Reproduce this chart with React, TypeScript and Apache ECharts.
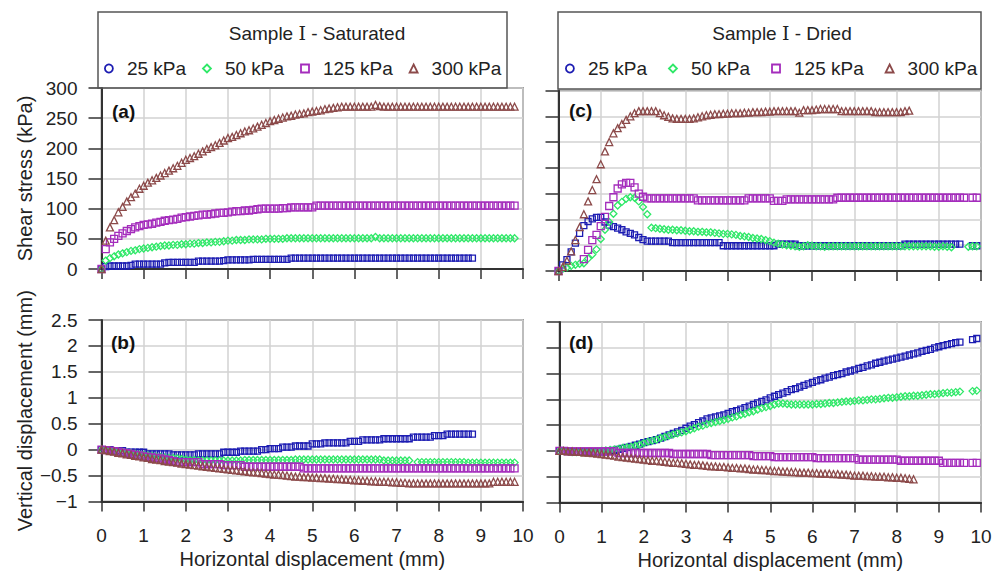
import React, { useEffect, useRef } from "react";
import * as echarts from "echarts";

// Horizontal displacement step between readings (mm)
const X_STEP = 0.1;
const SERIES_NAMES = ["25 kPa", "50 kPa", "125 kPa", "300 kPa"];
const PANEL_TITLES = ["Sample {r|\u2160} - Saturated", "Sample {r|\u2160} - Dried"];
const PANEL_LABELS = ["(a)", "(b)", "(c)", "(d)"];

// (a) Saturated shear stress (kPa)
const A25 = [0,4,5,5,5,5,5,6,8,8,8, 8,8,8,8,10,11,11,11,11,11, 11,11,13,13,13,13,13,13,14,15, 15,15,15,15,15,16,16,16,16,16, 16,16,16,16,18,18,18,18,18,18,
  18,18,18,18,18,18,18,18,18,18, 18,18,18,18,18,18,18,18,18,18, 18,18,18,18,18,18,18,18,18,18, 18,18,18,18,18,18,18,18];
const A50 = [0,14,18,21,24,26,28,30,31,33,34, 35,36,37,38,39,39,40,40,41,41, 42,42,43,43,44,44,45,45,46,47, 47,48,48,48,49,49,49,49,50,50, 50,50,50,51,51,51,51,51,51,51,
  51,51,51,51,51,51,51,51,51,51, 51,51,51,51,53,51,51,51,51,51, 51,51,51,51,51,51,51,51,51,51, 51,51,51,51,51,51,51,51,51,51, 51,51,51,51,51,51,51,51];
const A125 = [0,33,44,50,55,59,63,66,69,71,73, 74,75,77,78,80,81,82,83,85,86, 87,88,89,90,90,91,92,93,93,94, 95,96,96,97,97,98,99,100,100,100, 100,100,101,101,102,102,102,102,102,102,
  105,105,105,105,105,105,105,105,105,105, 105,105,105,105,105,105,105,105,105,105, 105,105,105,105,105,105,105,105,105,105, 105,105,105,105,105,105,105,105,105,105, 105,105,105,105,105,105,105,105];
const A300 = [0,47,69,81,94,103,112,119,125,133,138, 143,147,151,155,159,163,167,171,176,181, 184,187,191,195,199,202,205,209,213,217, 219,222,225,228,230,233,236,239,242,245, 247,249,251,253,254,256,257,258,260,261,
  262,263,265,266,267,268,269,269,269,269, 269,269,269,269,272,270,269,269,269,269, 269,269,269,269,269,269,269,269,269,269, 269,269,269,269,269,269,269,269,269,269, 269,269,269,269,269,269,269,269];

// (b) Saturated vertical displacement (mm)
const B25 = [0,0,0, -0.02,-0.02,-0.02, -0.05,-0.05,-0.05,-0.05,-0.05, -0.08,-0.08,-0.08,-0.08,-0.08,-0.08, -0.1,-0.1,-0.1,-0.1,-0.1,-0.1,
  -0.08,-0.08,-0.08,-0.08,-0.08,-0.08, -0.05,-0.05,-0.05,-0.05, -0.03,-0.03,-0.03,-0.03,-0.03, 0,0, 0.02,0.02,0.02, 0.05,0.05,0.05,
  0.07,0.07,0.07,0.07, 0.11,0.11,0.11, 0.13,0.13,0.13,0.13,0.13,0.13, 0.16,0.16,0.16, 0.19,0.19,0.19,0.19,0.19,
  0.21,0.21,0.21,0.21,0.21,0.21,0.21, 0.24,0.24,0.24,0.24,0.24, 0.27,0.27,0.27, 0.3,0.3,0.3,0.3,0.3,0.3,0.3];
const B50 = [0,-0.01,-0.02,-0.03,-0.04,-0.05,-0.06,-0.07,-0.08,-0.09,-0.1, -0.11,-0.12,-0.13,-0.14,-0.15,-0.16,-0.16,-0.17,-0.18,-0.19,
  -0.2,-0.2, -0.21,-0.21,-0.21,-0.21,-0.21,-0.21,-0.21,-0.21,-0.21,-0.21,-0.21,
  -0.2,-0.2,-0.2,-0.2,-0.2,-0.2,-0.2,-0.2,-0.2,-0.2,-0.2,-0.2,
  -0.19,-0.19,-0.19,-0.19,-0.19,-0.19,-0.19,-0.19,-0.19,-0.19, -0.19,-0.19,-0.19,-0.19,-0.19,-0.19,-0.19,-0.19,-0.19,-0.19,-0.19,
  -0.21,-0.21,-0.21,-0.21,-0.21,-0.21,-0.21, null,
  -0.24,-0.24,-0.24,-0.24,-0.24,-0.24,-0.24,-0.24,-0.24,-0.24,-0.24,-0.24, -0.25,-0.25,-0.25,-0.25,-0.25,-0.25,-0.25,-0.25,-0.25,-0.25,-0.25,-0.25];
const B125 = [0,-0.01,-0.02,-0.03,-0.04,-0.06,-0.07,-0.08,-0.1,-0.11,-0.13, -0.14,-0.15,-0.16,-0.17,-0.19,-0.2,-0.22,
  -0.24,-0.24,-0.24,-0.24,-0.24,-0.24, -0.28,-0.28,-0.28,-0.28,-0.28, -0.3,-0.3,-0.3,-0.3,-0.3,
  -0.33,-0.33,-0.33,-0.33,-0.33,-0.33,-0.33,-0.33,-0.33,-0.33,-0.33,-0.33,-0.33,-0.33,
  -0.36,-0.36,-0.36,-0.36,-0.36,-0.36,-0.36,-0.36,-0.36,-0.36, -0.36,-0.36,-0.36,-0.36,-0.36,-0.36,-0.36,-0.36,-0.36,-0.36,
  -0.36,-0.36,-0.36,-0.36,-0.36,-0.36,-0.36,-0.36,-0.36,-0.36, -0.36,-0.36,-0.36,-0.36,-0.36,-0.36,-0.36,-0.36,-0.36,-0.36,
  -0.36,-0.36,-0.36,-0.36,-0.36,-0.36,-0.36,-0.36,-0.36,-0.36, -0.36];
const B300 = [0,-0.01,-0.03,-0.04,-0.06,-0.07,-0.09,-0.1,-0.12,-0.13,-0.15,
  -0.16,-0.18,-0.19,-0.2,-0.22,-0.23,-0.24,-0.25,-0.27,-0.28, -0.29,-0.3,-0.31,-0.32,-0.33,-0.34,-0.35,-0.36,-0.37,-0.38,
  -0.39,-0.4,-0.41,-0.42,-0.43,-0.44,-0.44,-0.45,-0.46,-0.47, -0.48,-0.48,-0.49,-0.5,-0.51,-0.52,-0.52,-0.53,-0.53,-0.54,
  -0.54,-0.55,-0.55,-0.56,-0.56,-0.57,-0.57,-0.58,-0.58,-0.59, -0.59,-0.6,-0.6,-0.61,-0.61,-0.62,-0.62,-0.62,-0.63,-0.63,
  -0.64,-0.64,-0.65,-0.65,-0.65,-0.65,-0.65,-0.65,-0.65,-0.65, -0.65,-0.65,-0.65,-0.65,-0.65,-0.65,-0.65,-0.65,-0.65,-0.65,-0.65,-0.65,
  -0.62,-0.62,-0.62,-0.62,-0.62,-0.62];

// (c) Dried shear stress (kPa)
const C25 = [0,12,22,37,54,73,88,96,101,104,104,95,89,86,83,80,76,73,70,65,61,
  58,58,58,58,58,58, 55,55,55,55,55,55,55,55,55,55,55,55,
  49,49,49,49,49,49,49,49,49,49,49,49,49, 52,52,52,52,52,
  49,49,49,49,49,49,49,49,49,49, 49,49,49,49,49,49,49,49,49,49, 49,49,49,49,49,
  52,52,52,52,52,52,52,52,52,52,52,52,52,52, null,null, 49,49];
const C50 = [0,4,7,10,12,14,15,24,32,42,62,80,95,111,127,134,140,143,142,135,124,110,84,83,
  82,81,80,80,79,79,78, 77,77,76,76,75,75,74,73,72,72, 71,70,68,67,66,64,63,62,60,58, 55,53,51,50,49,
  48,47,48,50,49,48,48,47,48,48, 48,48,48,48,48,48,48,48,48,48, 48,48,48,48,48,48,48,48,48,48, 48,48,48,47,47,48,47,46,
  null,null,null, 47,48,48];
const C125 = [0, null,null,null,null,null, 23,41,60,70,87,105,126,143,160,168,171,171,162,150,144,
  141,141,141,141,141,141,141,141,141,141,141,141, 137,137,137,137,137,137,137,137,137,137,137,137,
  141,141,141,141,141,141, 136,136,136, 139,139,139,139,139,139,139,139,139,139,139,139,
  142,142,142,142,142,142,142,142,142,142, 142,142,142,142,142,142,142,142,142,142, 142,142,142,142,142,142,142,142,142,142, 142,
  null, 142,142];
const C300 = [0,8,20,38,60,85,110,135,157,178,207, 232,250,267,277,285,293,300,306,310,310, 310,310,310,306,302,299,296,295,295,295,
  295,296,298,300,302,303,304,304,305,305, 306,306,306,307,307,308,308,308,309,309, 310,310,310,310,310,310,307,312,312,312,
  313,314,314,314,314,314,310,310,310,310, 310,310,310,310,308,308,308,308,308,308, 308,310,311];

// (d) Dried vertical displacement (mm)
const D25 = [0,0,-0.01,-0.02,-0.02,-0.02,-0.02,-0.02,-0.02,-0.02,-0.02,-0.02,-0.01,
  0.01,0.03,0.05,0.07,0.09,0.11,0.13,0.16, 0.18,0.2,0.22,0.25,0.28,0.31,0.34,0.37,0.4,0.44,
  0.48,0.51,0.55,0.58,0.62,0.64,0.66,0.68,0.7,0.73, 0.76,0.78,0.81,0.84,0.87,0.9,0.93,0.96,0.99,1.03,
  1.06,1.09,1.12,1.15,1.19,1.21,1.24,1.27,1.3,1.33, 1.36,1.38,1.41,1.43,1.46,1.48,1.5,1.53,1.55,1.57,
  1.6,1.62,1.65,1.67,1.7,1.72,1.74,1.76,1.78,1.8, 1.82,1.84,1.86,1.88,1.9,1.93,1.95,1.97,2.0,2.02,
  2.04,2.06,2.08,2.1,2.11, null,null, 2.16,2.18];
const D50 = [0,0,-0.01,-0.02,-0.02,-0.02,-0.02,-0.02,-0.02,-0.01,0,0.01,0.02,
  0.03,0.04,0.06,0.07,0.08,0.1,0.12,0.15, 0.18,0.2,0.22,0.25,0.27,0.3,0.32,0.34,0.36,0.38,
  0.41,0.44,0.47,0.49,0.52,0.54,0.56,0.58,0.6,0.62, 0.65,0.67,0.7,0.72,0.75,0.77,0.8,0.83,0.85,0.87,
  0.9,0.92,0.92,0.91,0.9,0.9,0.9,0.9,0.9,0.9, 0.91,0.91,0.92,0.93,0.93,0.94,0.95,0.96,0.96,0.97,
  0.98,0.98,0.99,1.0,1.0,1.01,1.02,1.03,1.03,1.04, 1.05,1.06,1.06,1.07,1.07,1.08,1.09,1.1,1.1,1.11,
  1.12,1.13,1.13,1.14,1.15, null,null, 1.16,1.17];
const D125 = [0,0,-0.01,-0.01,-0.01,-0.01,-0.01,-0.01,-0.01,-0.01,-0.01,-0.01,-0.01,-0.01,
  -0.04,-0.04,-0.04,-0.04,-0.04,-0.04,-0.04,-0.04,-0.04,-0.04,-0.04,-0.04,-0.04,
  -0.06,-0.06,-0.06,-0.06,-0.06,-0.06,-0.06,-0.06,-0.06,
  -0.08,-0.08,-0.08,-0.08,-0.08,-0.08,-0.08,-0.08,-0.08,-0.08, -0.1,-0.1,-0.1,-0.1,-0.1,
  -0.12,-0.12,-0.12,-0.12,-0.12,-0.12,-0.12,-0.12,-0.12,-0.12, -0.14,-0.14,-0.14,-0.14,-0.14,-0.14,-0.14,-0.14,-0.14,-0.14,
  -0.17,-0.17,-0.17,-0.17,-0.17,-0.17,-0.17,-0.17,-0.17,-0.17, -0.19,-0.19,-0.19,-0.19,-0.19,-0.19,-0.19,-0.19,-0.19,-0.19,
  -0.23,-0.23,-0.23,-0.23,-0.23,-0.23, null, -0.23,-0.23];
const D300 = [0,0,-0.01,-0.01,-0.02,-0.02,-0.03,-0.03,-0.04,-0.05,-0.06,
  -0.07,-0.08,-0.09,-0.11,-0.12,-0.13,-0.14,-0.15,-0.16,-0.17, -0.18,-0.19,-0.19,-0.2,-0.21,-0.22,-0.23,-0.23,-0.24,-0.25,
  -0.26,-0.27,-0.27,-0.28,-0.29,-0.3,-0.3,-0.31,-0.31,-0.32, -0.33,-0.33,-0.34,-0.34,-0.35,-0.36,-0.36,-0.37,-0.37,-0.38,
  -0.39,-0.39,-0.4,-0.4,-0.41,-0.41,-0.42,-0.42,-0.42,-0.43, -0.43,-0.44,-0.44,-0.44,-0.45,-0.45,-0.46,-0.46,-0.47,-0.48,
  -0.48,-0.48,-0.49,-0.49,-0.5,-0.5,-0.5,-0.51,-0.51,-0.52, -0.52,-0.53,-0.54,-0.55];

const PANELS = [
  [A25, A50, A125, A300],
  [B25, B50, B125, B300],
  [C25, C50, C125, C300],
  [D25, D50, D125, D300],
];

const COLORS = ["#1c1cb2", "#2fe868", "#a42cbc", "#8c4a4a"];
const SYMBOLS = ["rect", "diamond", "rect", "triangle"];
const SIZES = [6, 7, 7, 7];

const FONT = "'Liberation Sans', Arial, 'Noto Sans CJK SC', sans-serif";
const NUMERAL_FONT = "'DejaVu Serif', 'DejaVu Sans', 'Liberation Serif', serif";

function toPoints(arr: (number | null)[]) {
  const out: number[][] = [];
  arr.forEach((v, i) => {
    if (v !== null) out.push([Math.round(i * X_STEP * 10) / 10, v]);
  });
  return out;
}

export default function App() {
  const ref = useRef<HTMLDivElement>(null);
  useEffect(() => {
    if (!ref.current) return;
    const chart = echarts.init(ref.current, undefined, { renderer: "svg" });

    const grids = [
      { left: 101.5, top: 88, width: 421.5, height: 181 },
      { left: 101.5, top: 320, width: 421.5, height: 181.5 },
      { left: 558.5, top: 90.5, width: 422.5, height: 180.5 },
      { left: 559.5, top: 322, width: 421.5, height: 180.5 },
    ].map((g) => ({ ...g, show: true, borderColor: "#555", borderWidth: 1.5, backgroundColor: "transparent" }));

    const axisLine = { show: true, onZero: false, lineStyle: { color: "#333", width: 2 } };
    const splitLine = { show: true, lineStyle: { color: "#d2d2d2", width: 1.5 } };

    const xAxis = [0, 1, 2, 3].map((i) => ({
      type: "value",
      gridIndex: i,
      min: 0,
      max: 10,
      interval: 1,
      axisLine,
      axisTick: { show: true, length: 10, lineStyle: { color: "#333", width: 1.5 } },
      splitLine,
      axisLabel: { show: i === 1 || i === 3, fontSize: 19, color: "#222", margin: 24, fontFamily: FONT },
      name: i === 1 || i === 3 ? "Horizontal displacement (mm)" : "",
      nameLocation: "middle",
      nameGap: 47,
      nameTextStyle: { fontSize: 20, color: "#222", fontFamily: FONT },
    }));

    const fmt = (v: number) => String(v).replace("-", "\u2212");
    const yAxis = [0, 1, 2, 3].map((i) => {
      const stress = i === 0 || i === 2;
      return {
        type: "value",
        gridIndex: i,
        min: stress ? 0 : -1,
        max: i === 0 ? 300 : i === 2 ? 350 : 2.5,
        interval: stress ? 50 : 0.5,
        axisLine,
        axisTick: { show: true, length: 13, lineStyle: { color: "#333", width: 1.5 } },
        splitLine,
        axisLabel: { show: i < 2, fontSize: 19, color: "#222", margin: 24, formatter: fmt, fontFamily: FONT },
        name: i === 0 ? "Shear stress (kPa)" : i === 1 ? "Vertical displacement (mm)" : "",
        nameLocation: "middle",
        nameGap: 67,
        nameTextStyle: { fontSize: 20, color: "#222", fontFamily: FONT },
      };
    });

    const series: any[] = [];
    PANELS.forEach((panel, p) => {
      panel.forEach((arr, s) => {
        series.push({
          type: "scatter",
          name: SERIES_NAMES[s],
          xAxisIndex: p,
          yAxisIndex: p,
          data: toPoints(arr),
          symbol: SYMBOLS[s],
          symbolSize: SIZES[s],
          itemStyle: { color: "rgba(255,255,255,0)", borderColor: COLORS[s], borderWidth: 1.3, opacity: 1 },
          emphasis: { disabled: true },
          z: 3,
        });
      });
    });

    const legendData = SERIES_NAMES.map((n, i) => (i === 0 ? { name: n, icon: "circle" } : { name: n }));
    const legendBase = {
      top: 59,
      padding: 0,
      itemWidth: 8,
      itemHeight: 8,
      selectedMode: false,
      itemStyle: { borderWidth: 1.8 },
      textStyle: { fontSize: 19, color: "#222", padding: [0, 0, 0, 9], fontFamily: FONT },
      data: legendData,
    };

    const titleStyle = (text: string) => ({
      text,
      fontSize: 19,
      fontFamily: FONT,
      fill: "#222",
      align: "center",
      verticalAlign: "middle",
      rich: { r: { fontSize: 19, fontFamily: NUMERAL_FONT, fill: "#222" } },
    });

    const texts: any[] = [
      { type: "rect", shape: { x: 98, y: 12, width: 409, height: 76 }, style: { fill: "none", stroke: "#555", lineWidth: 1.5 }, z: 10 },
      { type: "rect", shape: { x: 558, y: 12, width: 423, height: 77 }, style: { fill: "none", stroke: "#555", lineWidth: 1.5 }, z: 10 },
      { type: "text", x: 317, y: 33, style: titleStyle(PANEL_TITLES[0]), z: 10 },
      { type: "text", x: 782, y: 33, style: titleStyle(PANEL_TITLES[1]), z: 10 },
    ];
    const labelPos = [[112, 111], [111, 342], [569, 110], [569, 342]];
    PANEL_LABELS.forEach((t, i) => {
      texts.push({
        type: "text",
        x: labelPos[i][0],
        y: labelPos[i][1],
        style: { text: t, fontSize: 19, fontWeight: "bold", fontFamily: FONT, fill: "#111", align: "left", verticalAlign: "middle" },
        z: 10,
      });
    });

    chart.setOption({
      animation: false,
      textStyle: { fontFamily: FONT },
      grid: grids,
      xAxis,
      yAxis,
      legend: [
        { ...legendBase, left: 104, itemGap: 16 },
        { ...legendBase, left: 565, itemGap: 21 },
      ],
      graphic: texts,
      series,
    });
    return () => chart.dispose();
  }, []);
  return <div ref={ref} style={{ position: "absolute", left: 0, top: 0, width: 1000, height: 572, background: "#fff" }} />;
}
